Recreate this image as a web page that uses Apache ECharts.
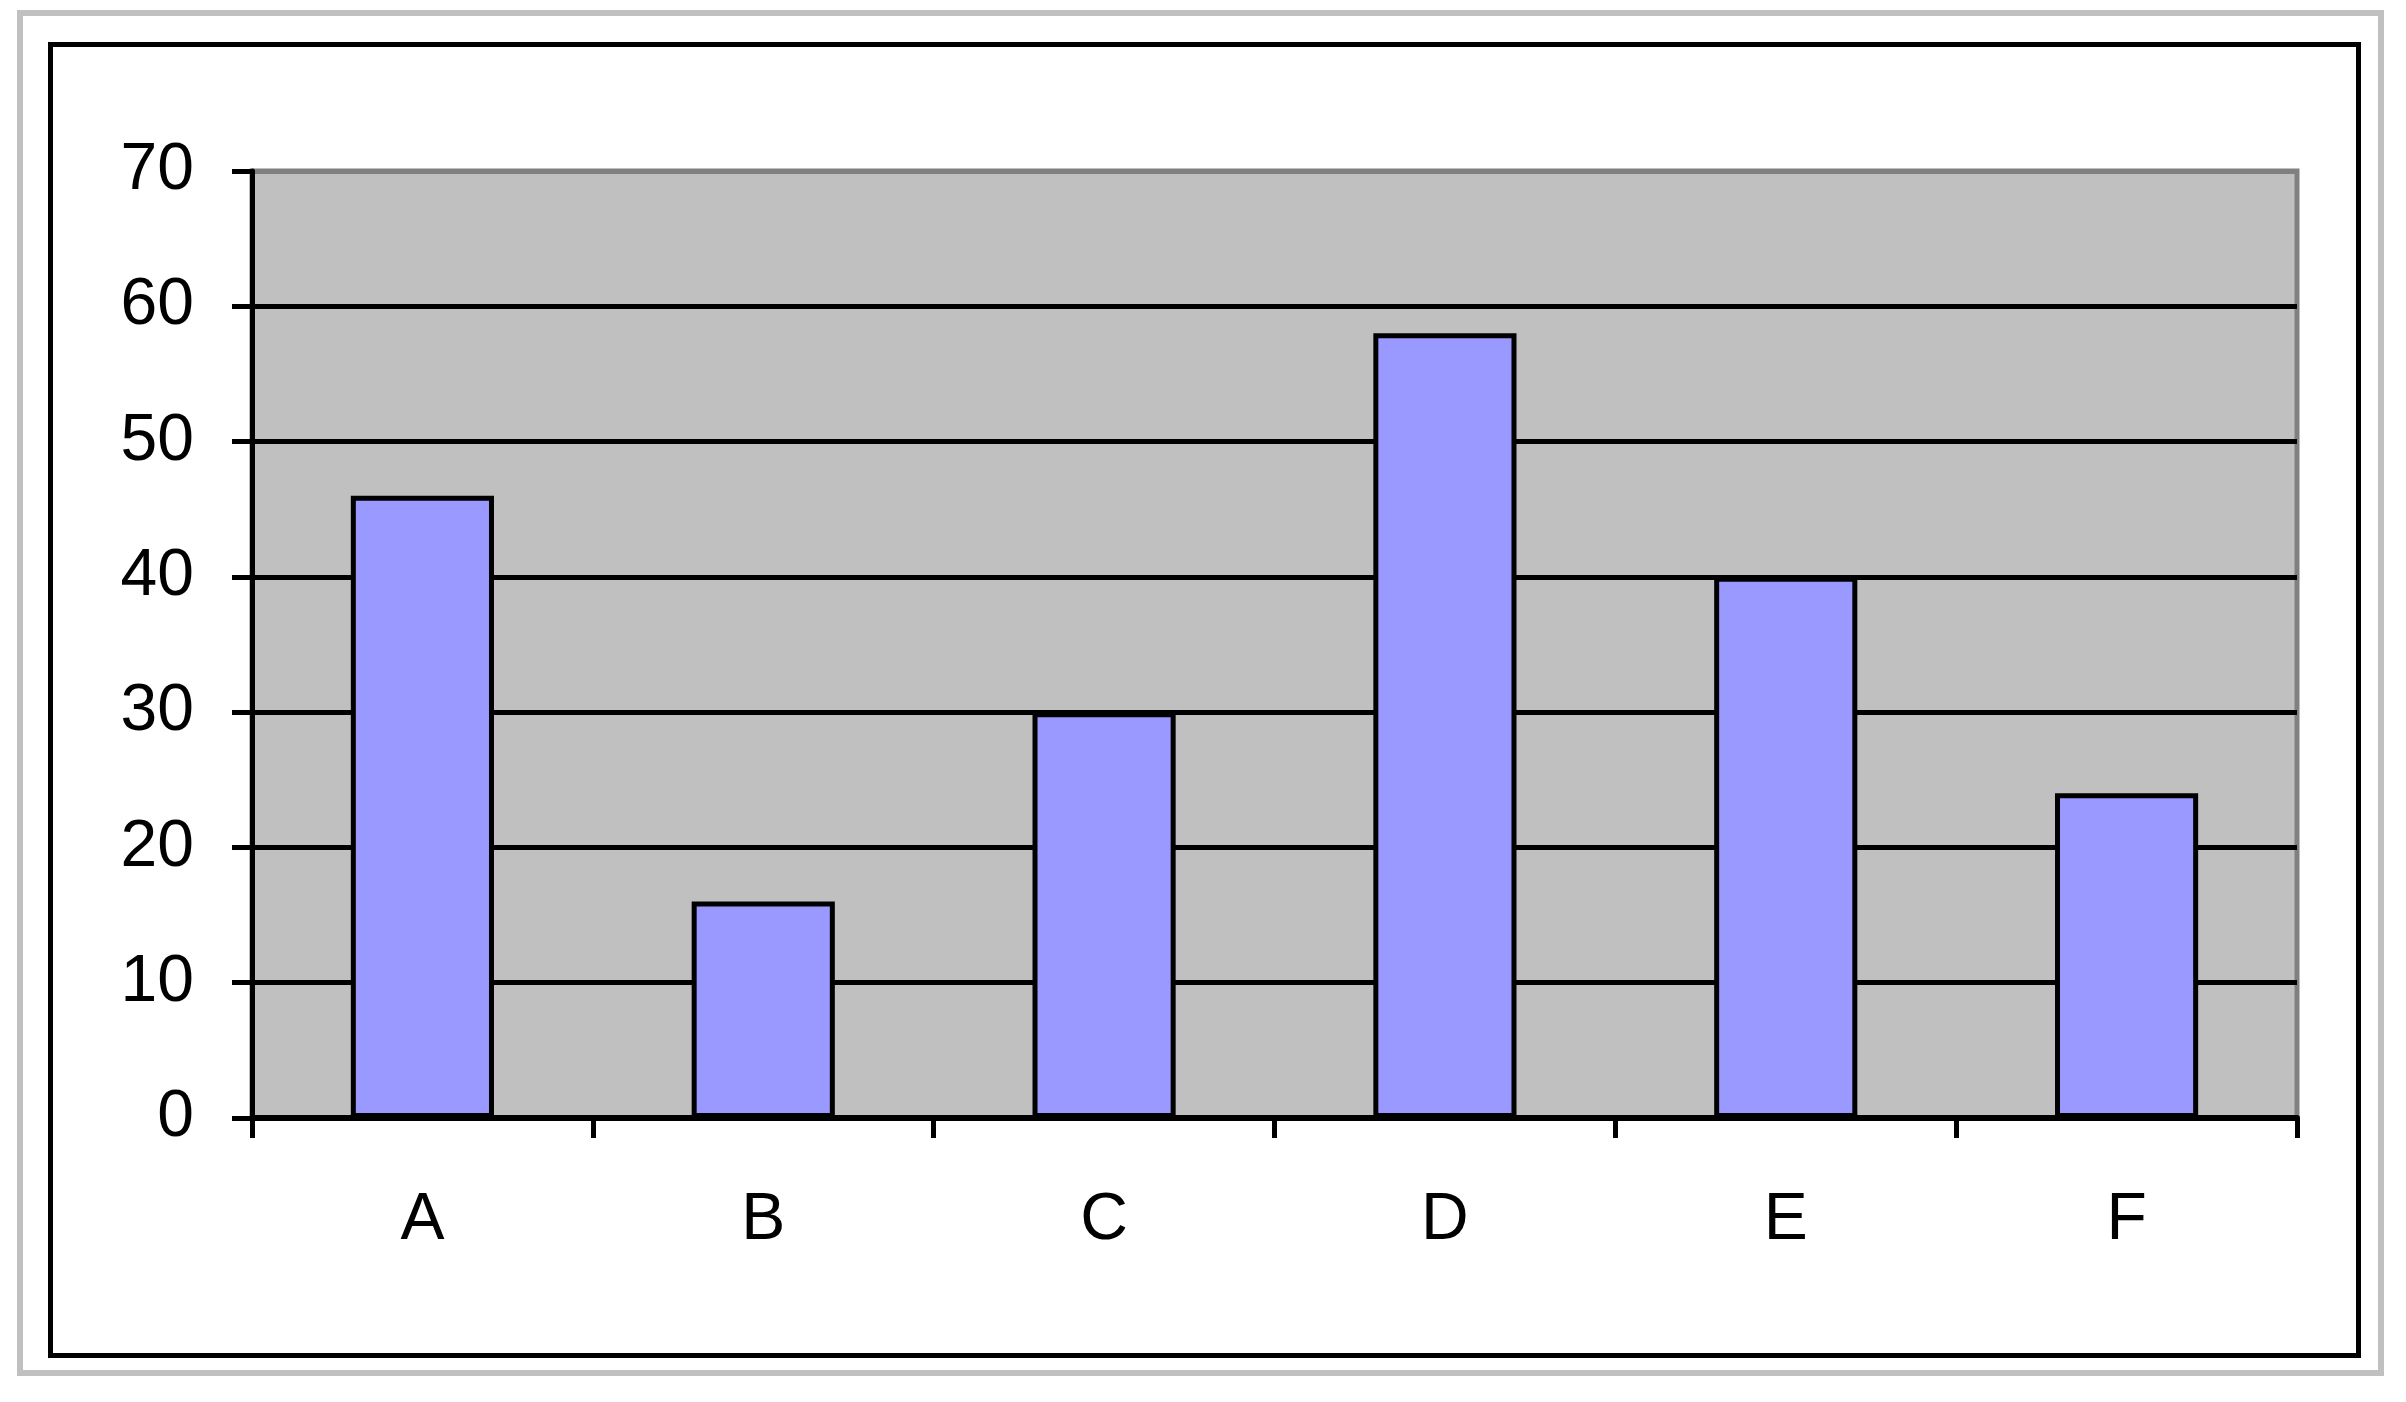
<!DOCTYPE html>
<html>
<head>
<meta charset="utf-8">
<script src="https://cdn.jsdelivr.net/npm/echarts@6/dist/echarts.min.js"></script>
<style>
html,body{margin:0;padding:0;background:#fff;width:2406px;height:1402px;overflow:hidden;}
#outer{position:absolute;left:17px;top:10px;width:2355px;height:1354px;border:6px solid #c0c0c0;}
#frame{position:absolute;left:48px;top:42px;width:2303px;height:1306px;border:5px solid #000;}
#chart{position:absolute;left:0;top:0;width:2406px;height:1402px;}
</style>
</head>
<body>
<div id="outer"></div>
<div id="frame"></div>
<div id="chart"></div>
<script>
const categories = ['A', 'B', 'C', 'D', 'E', 'F'];
const values = [46, 16, 30, 58, 40, 24];
const yTicks = [0, 10, 20, 30, 40, 50, 60, 70];

const chart = echarts.init(document.getElementById('chart'), null, {renderer: 'canvas'});
const font = '"Liberation Sans", Arial, sans-serif';
chart.setOption({
  animation: false,
  backgroundColor: 'transparent',
  grid: {
    left: 252, top: 171, right: 109, bottom: 284,
    show: true, backgroundColor: '#c0c0c0', borderColor: '#808080', borderWidth: 5
  },
  xAxis: {
    type: 'category',
    data: categories,
    axisLine: {lineStyle: {color: '#000', width: 6}},
    axisTick: {show: true, length: 20, lineStyle: {color: '#000', width: 5}},
    axisLabel: {color: '#000', fontSize: 66, fontFamily: font, margin: 70},
    splitLine: {show: false}
  },
  yAxis: {
    type: 'value',
    min: yTicks[0], max: yTicks[yTicks.length - 1], interval: 10,
    axisLine: {show: true, lineStyle: {color: '#000', width: 5}},
    axisTick: {show: true, length: 20, lineStyle: {color: '#000', width: 5}},
    axisLabel: {color: '#000', fontSize: 66, fontFamily: font, margin: 58},
    splitLine: {show: true, lineStyle: {color: ['#000', '#000', '#000', '#000', '#000', '#000', '#000', '#808080'], width: 5}}
  },
  series: [{
    type: 'bar',
    data: values,
    barWidth: '42%',
    itemStyle: {color: '#9999ff', borderColor: '#000', borderWidth: 5}
  }]
});
</script>
</body>
</html>
